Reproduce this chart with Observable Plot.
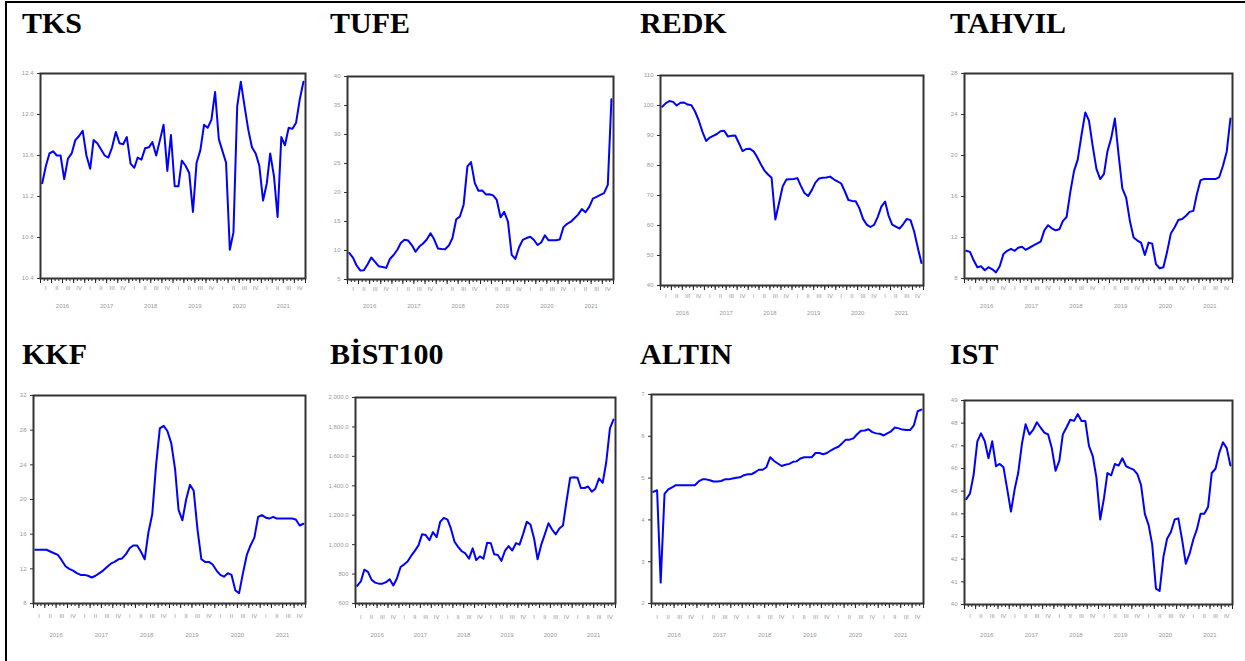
<!DOCTYPE html>
<html>
<head>
<meta charset="utf-8">
<script src="https://cdn.jsdelivr.net/npm/d3@7"></script>
<script src="https://cdn.jsdelivr.net/npm/@observablehq/plot@0.6"></script>
<style>
  html, body { margin: 0; padding: 0; background: #fff; }
  body { width: 1245px; height: 661px; position: relative; overflow: hidden; }
  #border { position: absolute; left: 5px; top: 1px; width: 1300px; height: 700px;
            border-top: 2.5px solid #000; border-left: 2.5px solid #000; }
  .title { position: absolute; font-family: "Liberation Serif", serif; font-weight: bold;
           font-size: 30px; line-height: 1; color: #000; white-space: nowrap; }
  .panel { position: absolute; }
</style>
</head>
<body>
<div id="border"></div>
<script>
// ---- data (monthly, Jan 2016 - Dec 2021) ----
const years = [2016, 2017, 2018, 2019, 2020, 2021];
const quarterLabels = ["I", "II", "III", "IV"];
const titles = ["TKS", "TUFE", "REDK", "TAHVIL", "KKF", "BİST100", "ALTIN", "IST"];

const TKS = [11.33, 11.5, 11.62, 11.64, 11.6, 11.6, 11.37, 11.57, 11.62, 11.75, 11.79, 11.84,
  11.6, 11.47, 11.75, 11.72, 11.66, 11.6, 11.58, 11.68, 11.83, 11.72, 11.71, 11.78,
  11.52, 11.48, 11.58, 11.56, 11.67, 11.68, 11.73, 11.6, 11.75, 11.9, 11.45, 11.8,
  11.3, 11.3, 11.55, 11.5, 11.43, 11.05, 11.53, 11.65, 11.9, 11.87, 11.95, 12.22,
  11.76, 11.64, 11.53, 10.68, 10.85, 12.08, 12.32, 12.08, 11.85, 11.68, 11.62, 11.5,
  11.16, 11.33, 11.62, 11.4, 11.0, 11.78, 11.7, 11.87, 11.86, 11.92, 12.15, 12.32];
const TUFE = [9.58, 8.78, 7.46, 6.57, 6.58, 7.64, 8.79, 8.05, 7.28, 7.16, 7.0, 8.53,
  9.22, 10.13, 11.29, 11.87, 11.72, 10.9, 9.79, 10.68, 11.2, 11.9, 12.98, 11.92,
  10.35, 10.26, 10.23, 10.85, 12.15, 15.39, 15.85, 17.9, 24.52, 25.24, 21.62, 20.3,
  20.35, 19.67, 19.71, 19.5, 18.71, 15.72, 16.65, 15.01, 9.26, 8.55, 10.56, 11.84,
  12.15, 12.37, 11.86, 10.94, 11.39, 12.62, 11.76, 11.77, 11.75, 11.89, 14.03, 14.6,
  14.97, 15.61, 16.19, 17.14, 16.59, 17.53, 18.95, 19.25, 19.58, 19.89, 21.31, 36.08];
const REDK = [99.6, 100.8, 101.5, 101.2, 100.0, 100.9, 101.0, 100.3, 100.1, 98.0, 95.0, 91.3,
  88.2, 89.3, 89.9, 90.5, 91.4, 91.6, 89.7, 89.9, 90.0, 87.5, 84.8, 85.5,
  85.6, 84.7, 82.9, 80.5, 78.4, 77.0, 75.9, 62.0, 67.5, 73.0, 75.3, 75.4,
  75.5, 75.8, 73.3, 70.8, 69.8, 71.8, 74.3, 75.7, 75.9, 76.0, 76.3, 75.4,
  74.7, 74.0, 71.5, 68.5, 68.2, 68.1, 65.8, 62.2, 60.3, 59.5, 60.2, 62.8,
  66.3, 68.0, 63.4, 60.3, 59.6, 59.0, 60.4, 62.2, 61.8, 58.0, 52.5, 47.5];
const TAHVIL = [10.7, 10.6, 9.8, 9.1, 9.2, 8.8, 9.1, 8.9, 8.6, 9.2, 10.4, 10.7,
  10.9, 10.7, 11.0, 11.1, 10.8, 11.0, 11.2, 11.4, 11.6, 12.7, 13.2, 12.9,
  12.7, 12.8, 13.6, 14.0, 16.4, 18.5, 19.6, 22.0, 24.2, 23.4, 20.9, 18.7,
  17.7, 18.2, 20.4, 21.7, 23.6, 20.0, 16.8, 15.9, 13.6, 12.0, 11.7, 11.5,
  10.3, 11.5, 11.4, 9.4, 9.0, 9.1, 10.6, 12.4, 13.0, 13.7, 13.8, 14.1,
  14.5, 14.6, 16.2, 17.6, 17.7, 17.7, 17.7, 17.7, 17.9, 19.0, 20.4, 23.6];
const KKF = [14.2, 14.2, 14.2, 14.2, 14.0, 13.8, 13.6, 13.0, 12.3, 12.0, 11.8, 11.5,
  11.3, 11.3, 11.2, 11.0, 11.2, 11.5, 11.8, 12.2, 12.6, 12.8, 13.1, 13.2,
  13.7, 14.4, 14.7, 14.7, 14.0, 13.1, 16.2, 18.3, 24.0, 28.2, 28.5, 27.9,
  26.5, 23.5, 18.8, 17.6, 20.0, 21.7, 21.0, 16.5, 13.1, 12.8, 12.8, 12.5,
  11.8, 11.3, 11.1, 11.5, 11.3, 9.5, 9.2, 11.5, 13.6, 14.7, 15.6, 18.0,
  18.2, 17.9, 17.8, 18.0, 17.8, 17.8, 17.8, 17.8, 17.8, 17.7, 17.0, 17.2];
const BIST100 = [720, 750, 830, 815, 762, 742, 735, 735, 745, 765, 722, 770,
  848, 866, 885, 925, 958, 995, 1070, 1065, 1030, 1085, 1050, 1155,
  1182, 1170, 1110, 1020, 985, 955, 940, 905, 975, 895, 920, 905,
  1013, 1010, 935, 930, 890, 960, 990, 960, 1010, 1000, 1075, 1155,
  1137, 1040, 900, 1000, 1070, 1145, 1103, 1070, 1110, 1130, 1300, 1455,
  1458, 1455, 1385, 1385, 1395, 1360, 1380, 1450, 1420, 1560, 1790, 1850];
const ALTIN = [4.67, 4.71, 2.5, 4.62, 4.73, 4.78, 4.83, 4.83, 4.83, 4.83, 4.83, 4.83,
  4.92, 4.97, 4.97, 4.95, 4.92, 4.92, 4.93, 4.97, 4.97, 4.99, 5.01, 5.02,
  5.07, 5.09, 5.09, 5.14, 5.2, 5.2, 5.26, 5.5, 5.41, 5.35, 5.29, 5.32,
  5.34, 5.39, 5.4, 5.47, 5.5, 5.5, 5.5, 5.6, 5.6, 5.57, 5.6, 5.66,
  5.71, 5.75, 5.83, 5.92, 5.92, 5.95, 6.05, 6.13, 6.14, 6.17, 6.1, 6.07,
  6.06, 6.02, 6.07, 6.12, 6.21, 6.19, 6.16, 6.15, 6.15, 6.26, 6.6, 6.64];
const IST = [44.65, 44.9, 45.7, 47.2, 47.55, 47.2, 46.45, 47.2, 46.1, 46.2, 46.05, 45.1,
  44.1, 45.1, 45.8, 47.1, 47.95, 47.5, 47.7, 48.04, 47.8, 47.58, 47.5, 46.9,
  45.9, 46.35, 47.5, 47.82, 48.15, 48.1, 48.4, 48.1, 48.1, 47.0, 46.55, 45.6,
  43.75, 44.7, 45.8, 45.7, 46.2, 46.13, 46.45, 46.1, 46.02, 45.95, 45.75, 45.27,
  44.0, 43.5, 42.65, 40.7, 40.6, 42.1, 42.9, 43.2, 43.75, 43.8, 42.85, 41.8,
  42.24, 42.88, 43.3, 44.0, 44.0, 44.3, 45.8, 45.99, 46.7, 47.16, 46.9, 46.13];

// y tick values and labels
const ticksTKS = [10.4, 10.8, 11.2, 11.6, 12.0, 12.4];
const labelsTKS = ["10.4", "10.8", "11.2", "11.6", "12.0", "12.4"];
const ticksTUFE = [5, 10, 15, 20, 25, 30, 35, 40];
const labelsTUFE = ["5", "10", "15", "20", "25", "30", "35", "40"];
const ticksREDK = [40, 50, 60, 70, 80, 90, 100, 110];
const labelsREDK = ["40", "50", "60", "70", "80", "90", "100", "110"];
const ticksTAHVIL = [8, 12, 16, 20, 24, 28];
const labelsTAHVIL = ["8", "12", "16", "20", "24", "28"];
const ticksKKF = [8, 12, 16, 20, 24, 28, 32];
const labelsKKF = ["8", "12", "16", "20", "24", "28", "32"];
const ticksBIST = [600, 800, 1000, 1200, 1400, 1600, 1800, 2000];
const labelsBIST = ["600", "800", "1,000.0", "1,200.0", "1,400.0", "1,600.0", "1,800.0", "2,000.0"];
const ticksALTIN = [2, 3, 4, 5, 6, 7];
const labelsALTIN = ["2", "3", "4", "5", "6", "7"];
const ticksIST = [40, 41, 42, 43, 44, 45, 46, 47, 48, 49];
const labelsIST = ["40", "41", "42", "43", "44", "45", "46", "47", "48", "49"];

// ---- layout (page pixel positions) ----
const panels = [
  {name: titles[0], values: TKS, ticks: ticksTKS, labels: labelsTKS, title: [22, 8], frame: [40, 73, 305, 278], q: 10, yr: 28},
  {name: titles[1], values: TUFE, ticks: ticksTUFE, labels: labelsTUFE, title: [330, 8], frame: [347, 76, 613, 279], q: 10, yr: 27},
  {name: titles[2], values: REDK, ticks: ticksREDK, labels: labelsREDK, title: [640, 8], frame: [660, 75, 923, 285], q: 11, yr: 28},
  {name: titles[3], values: TAHVIL, ticks: ticksTAHVIL, labels: labelsTAHVIL, title: [950, 8], frame: [964, 73, 1232, 278], q: 10, yr: 28},
  {name: titles[4], values: KKF, ticks: ticksKKF, labels: labelsKKF, title: [22, 339], frame: [33, 395, 305, 603], q: 13, yr: 32},
  {name: titles[5], values: BIST100, ticks: ticksBIST, labels: labelsBIST, title: [330, 339], frame: [355, 397, 615, 603], q: 14, yr: 32},
  {name: titles[6], values: ALTIN, ticks: ticksALTIN, labels: labelsALTIN, title: [640, 339], frame: [651, 394, 923, 603], q: 14, yr: 32},
  {name: titles[7], values: IST, ticks: ticksIST, labels: labelsIST, title: [950, 339], frame: [964, 400, 1232, 604], q: 12, yr: 31}
];

const monthDates = d3.range(72).map(k => new Date(Date.UTC(2016, k, 15)));
const monthTicks = d3.range(73).map(k => new Date(Date.UTC(2016, k, 1)));
const quarterTicks = d3.range(25).map(k => new Date(Date.UTC(2016, k * 3, 1)));
const quarterMids = [];
const quarterText = new Map();
years.forEach(y => quarterLabels.forEach((lab, q) => {
  const d = new Date(Date.UTC(y, q * 3 + 1, 15));
  quarterMids.push(d); quarterText.set(+d, lab);
}));
const yearMids = years.map(y => new Date(Date.UTC(y, 6, 1)));
const yearText = new Map(years.map((y, i) => [+yearMids[i], String(y)]));

const ml = 48, mr = 6, mt = 8, mb = 42;
panels.forEach(p => {
  const [x0, y0, x1, y1] = p.frame;
  const t = document.createElement("div");
  t.className = "title";
  t.style.left = p.title[0] + "px";
  t.style.top = p.title[1] + "px";
  t.textContent = p.name;
  document.body.appendChild(t);

  const labelMap = new Map(p.ticks.map((v, i) => [v, p.labels[i]]));
  const chart = Plot.plot({
    width: (x1 - x0) + ml + mr,
    height: (y1 - y0) + mt + mb,
    marginLeft: ml, marginRight: mr, marginTop: mt, marginBottom: mb,
    style: {background: "transparent", fontFamily: "Liberation Sans, Arial, sans-serif", overflow: "visible"},
    x: {type: "utc", domain: [new Date(Date.UTC(2016, 0, 1)), new Date(Date.UTC(2022, 0, 1))]},
    y: {domain: [p.ticks[0], p.ticks[p.ticks.length - 1]]},
    marks: [
      Plot.axisY({ticks: p.ticks, tickFormat: d => labelMap.get(d), tickSize: 3, tickPadding: 4,
                  fontSize: 6, fill: "#999", stroke: "#333", label: null}),
      Plot.axisX({ticks: monthTicks, tickSize: 3, tickFormat: () => "", stroke: "#222", label: null}),
      Plot.axisX({ticks: quarterTicks, tickSize: 5, tickFormat: () => "", stroke: "#222", label: null}),
      Plot.axisX({ticks: quarterMids, tickSize: 0, tickPadding: p.q - 3, tickFormat: d => quarterText.get(+d),
                  fontSize: 6, fill: "#999", label: null}),
      Plot.axisX({ticks: yearMids, tickSize: 0, tickPadding: p.yr - 3, tickFormat: d => yearText.get(+d),
                  fontSize: 6, fill: "#999", label: null}),
      Plot.lineY(p.values, {x: (d, i) => monthDates[i], y: d => d, stroke: "#0000ff", strokeWidth: 2}),
      Plot.frame({stroke: "#333", strokeWidth: 2})
    ]
  });
  const wrap = document.createElement("div");
  wrap.className = "panel";
  wrap.style.left = (x0 - ml) + "px";
  wrap.style.top = (y0 - mt) + "px";
  wrap.appendChild(chart);
  document.body.appendChild(wrap);
});
</script>
</body>
</html>
